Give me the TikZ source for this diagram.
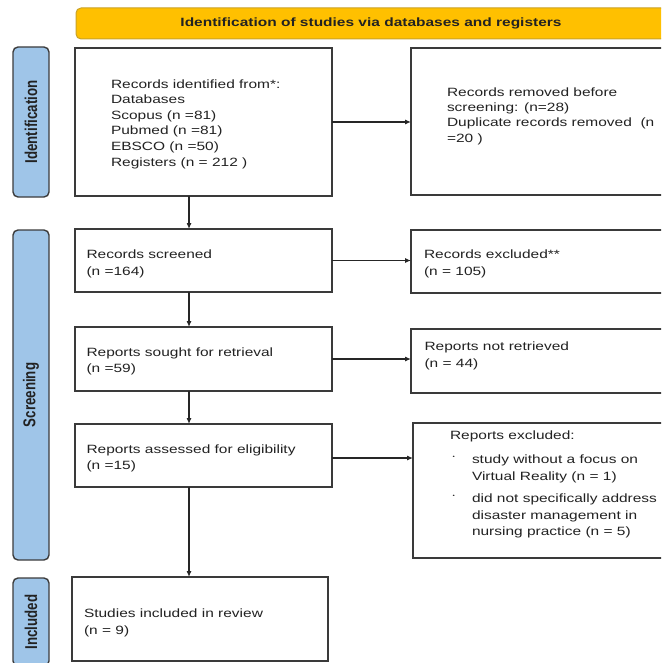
\documentclass[tikz,border=0pt]{standalone}
\usepackage{fontspec}
\usepackage{graphicx}
\setmainfont{Liberation Sans}[FakeStretch=1.29]
\newfontfamily\lblfont{Liberation Sans}
\usetikzlibrary{arrows.meta}
\definecolor{bannerfill}{HTML}{FFC000}
\definecolor{bannerline}{HTML}{C9A227}
\definecolor{lblfill}{HTML}{9FC5E8}
\definecolor{lblline}{HTML}{3C3C3C}
\definecolor{boxline}{HTML}{3A3A3A}
\definecolor{txtcol}{HTML}{222222}
\newcommand{\bul}{\makebox[22pt][l]{\hspace{2.5pt}\raisebox{4.5pt}{\fontsize{5}{5}\selectfont •}}}
\newcommand{\ind}{\hspace*{22pt}}
\begin{document}
\begin{tikzpicture}[x=1pt,y=-1pt,
  box/.style={draw=boxline,line width=1.4pt,inner sep=0pt,outer sep=0pt,fill=white},
  lbl/.style={draw=lblline,fill=lblfill,line width=1.4pt,rounded corners=5pt,inner sep=0pt,outer sep=0pt,minimum width=36pt},
  txt/.style={text=txtcol,inner sep=0pt,outer sep=0pt,align=left,anchor=north west,font=\fontsize{12}{16}\selectfont},
  lbltxt/.style={text=txtcol,inner sep=0pt,rotate=90,font=\lblfont\bfseries\fontsize{13.3}{14}\selectfont},
  arr/.style={draw=black!85,line width=1.1pt,-{Latex[length=6pt,width=5pt]}}]
\useasboundingbox (0,0) rectangle (661,663);
\clip (0,0) rectangle (661,663);
% banner
\node[draw=bannerline,fill=bannerfill,line width=1pt,rounded corners=5pt,minimum width=590pt,minimum height=31pt,inner sep=0pt] (banner) at (371,23.5) {};
\node[text=txtcol,font=\bfseries\fontsize{12}{14}\selectfont] (bannertxt) at (banner.center) {Identification of studies via databases and registers};
% side labels
\node[lbl,minimum height=150pt] (lid) at (31,122) {};
\node[lbltxt] (lidt) at (lid.center) {\scalebox{1}[1.29]{Identification}};
\node[lbl,minimum height=330pt] (lsc) at (31,395) {};
\node[lbltxt] (lsct) at (lsc.center) {\scalebox{1}[1.29]{Screening}};
\node[lbl,minimum height=88pt] (lin) at (31,622) {};
\node[lbltxt] (lint) at (lin.center) {\scalebox{1}[1.29]{Included}};
% boxes left column
\node[box,minimum width=257pt,minimum height=148pt] (b1) at (203.5,122) {};
\node[box,minimum width=257pt,minimum height=63pt] (b3) at (203.5,260.5) {};
\node[box,minimum width=257pt,minimum height=64pt] (b5) at (203.5,359) {};
\node[box,minimum width=257pt,minimum height=63pt] (b7) at (203.5,455.5) {};
\node[box,minimum width=256pt,minimum height=84pt] (b9) at (200,619) {};
% boxes right column
\node[box,minimum width=269pt,minimum height=147pt] (b2) at (545.5,121.5) {};
\node[box,minimum width=269pt,minimum height=63pt] (b4) at (545.5,261.5) {};
\node[box,minimum width=269pt,minimum height=64pt] (b6) at (545.5,361) {};
\node[box,minimum width=267pt,minimum height=135pt] (b8) at (546.5,490.5) {};
% texts
\node[txt,font=\fontsize{12}{15.6}\selectfont] (t1) at (111,79.5) {Records identified from*:\\Databases\\Scopus (n =81)\\Pubmed (n =81)\\EBSCO (n =50)\\Registers (n = 212 )};
\node[txt,font=\fontsize{12}{15.3}\selectfont] (t2) at (447,87.5) {Records removed before\\screening: (n=28)\\Duplicate records removed\ \ (n\\=20 )};
\node[txt,font=\fontsize{12}{17}\selectfont] (t3) at (86.5,249.5) {Records screened\\(n =164)};
\node[txt,font=\fontsize{12}{17}\selectfont] (t4) at (424,249.5) {Records excluded**\\(n = 105)};
\node[txt] (t5) at (86.5,347.5) {Reports sought for retrieval\\(n =59)};
\node[txt,font=\fontsize{12}{17}\selectfont] (t6) at (424.5,341.5) {Reports not retrieved\\(n = 44)};
\node[txt] (t7) at (86.5,444.5) {Reports assessed for eligibility\\(n =15)};
\node[txt,font=\fontsize{12}{17}\selectfont] (t8) at (450,430.5) {Reports excluded:\\[7pt]
\bul study without a focus on\\
\ind Virtual Reality (n = 1)\\[5pt]
\bul did not specifically address\\
\ind disaster management in\\[-1pt]
\ind nursing practice (n = 5)};
\node[txt,font=\fontsize{12}{17}\selectfont] (t9) at (84,608.5) {Studies included in review\\(n = 9)};
% connectors
\coordinate (ax) at (189,0);
\draw[arr] (b1.east) -- (b1.east -| b2.west);
\draw[arr] (b3.east) -- (b3.east -| b4.west);
\draw[arr] (b5.east) -- (b5.east -| b6.west);
\draw[arr] ([yshift=-2.5pt]b7.east) -- ([yshift=-2.5pt]b7.east -| b8.west);
\draw[arr] (b1.south -| ax) -- (b3.north -| ax);
\draw[arr] (b3.south -| ax) -- (b5.north -| ax);
\draw[arr] (b5.south -| ax) -- (b7.north -| ax);
\draw[arr] (b7.south -| ax) -- (b9.north -| ax);
\end{tikzpicture}
\end{document}
